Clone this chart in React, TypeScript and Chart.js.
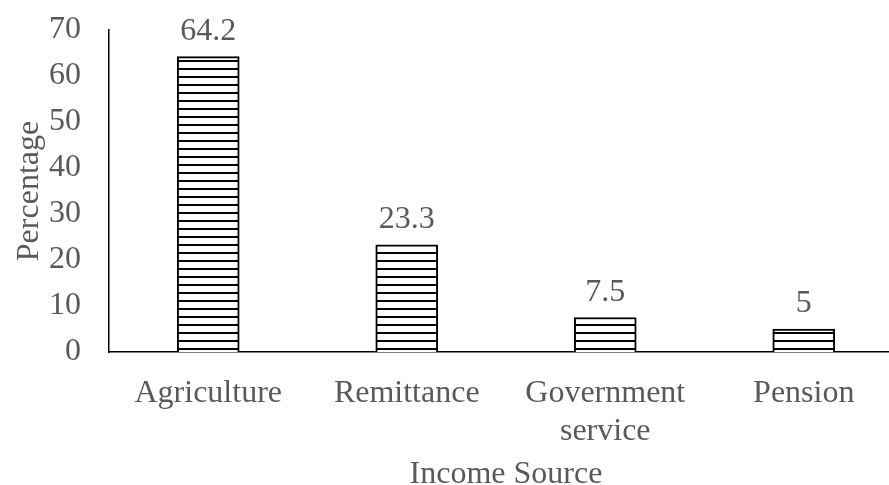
import React, { useEffect, useRef } from "react";
import { Chart, registerables } from "chart.js";

Chart.register(...registerables);

const categories: (string | string[])[] = ["Agriculture", "Remittance", ["Government", "service"], "Pension"];
const percentages: number[] = [64.2, 23.3, 7.5, 5];
const valueLabels: string[] = ["64.2", "23.3", "7.5", "5"];
const yTicks: number[] = [0, 10, 20, 30, 40, 50, 60, 70];

const FONT = "'Liberation Serif', 'Times New Roman', serif";
const TEXT = "#595959";
const FS = 32;

function makePattern(): CanvasPattern | string {
  const c = document.createElement("canvas");
  c.width = 8;
  c.height = 8;
  const g = c.getContext("2d");
  if (!g) return "#ffffff";
  g.fillStyle = "#ffffff";
  g.fillRect(0, 0, 8, 8);
  g.fillStyle = "#000000";
  g.fillRect(0, 4, 8, 2);
  const p = g.createPattern(c, "repeat");
  return p || "#ffffff";
}

const valueLabelPlugin = {
  id: "valueLabels",
  afterDatasetsDraw(chart: any) {
    const ctx = chart.ctx;
    const meta = chart.getDatasetMeta(0);
    ctx.save();
    ctx.font = `${FS}px ${FONT}`;
    ctx.fillStyle = TEXT;
    ctx.textAlign = "center";
    ctx.textBaseline = "alphabetic";
    meta.data.forEach((bar: any, i: number) => {
      ctx.fillText(valueLabels[i], bar.x, bar.y - 17);
    });
    ctx.restore();
  },
};

export default function App() {
  const ref = useRef<HTMLCanvasElement | null>(null);
  useEffect(() => {
    document.body.style.margin = "0";
    if (!ref.current) return;
    const chart = new Chart(ref.current, {
      type: "bar",
      data: {
        labels: categories,
        datasets: [
          {
            data: percentages,
            backgroundColor: makePattern() as any,
            borderColor: "#000000",
            borderWidth: 2,
            barThickness: 62,
          },
        ],
      },
      options: {
        animation: false,
        responsive: false,
        maintainAspectRatio: false,
        layout: { padding: { top: 30, left: 0, right: 0, bottom: 0 } },
        plugins: { legend: { display: false }, tooltip: { enabled: false } },
        scales: {
          x: {
            grid: { display: false, drawTicks: false },
            border: { display: true, color: "#000000", width: 1.5 },
            ticks: {
              color: TEXT,
              font: { family: FONT, size: FS, lineHeight: 1.2 },
              padding: 22,
              maxRotation: 0,
              autoSkip: false,
            },
            title: {
              display: true,
              text: "Income Source",
              color: TEXT,
              font: { family: FONT, size: FS, lineHeight: 0.62 },
              padding: { top: 0, bottom: 0 },
            },
            afterFit(scale: any) {
              scale.height = 133;
              scale.paddingLeft = 0;
              scale.paddingRight = 0;
            },
          },
          y: {
            min: 0,
            max: 70,
            afterBuildTicks(scale: any) {
              scale.ticks = yTicks.map((v) => ({ value: v }));
            },
            grid: { display: false, drawTicks: false },
            border: { display: true, color: "#000000", width: 1.5 },
            ticks: {
              color: TEXT,
              font: { family: FONT, size: FS },
              padding: 28,
            },
            title: {
              display: true,
              text: "Percentage",
              color: TEXT,
              font: { family: FONT, size: FS },
              padding: { top: 10, bottom: 0 },
            },
            afterFit(scale: any) {
              scale.width = 109;
              scale.paddingTop = 0;
              scale.paddingBottom = 0;
            },
          },
        },
      },
      plugins: [valueLabelPlugin],
    });
    return () => chart.destroy();
  }, []);
  return (
    <div style={{ width: 889, height: 485, overflow: "hidden", background: "#ffffff" }}>
      <canvas ref={ref} width={903} height={485} style={{ display: "block", width: 903, height: 485 }} />
    </div>
  );
}
